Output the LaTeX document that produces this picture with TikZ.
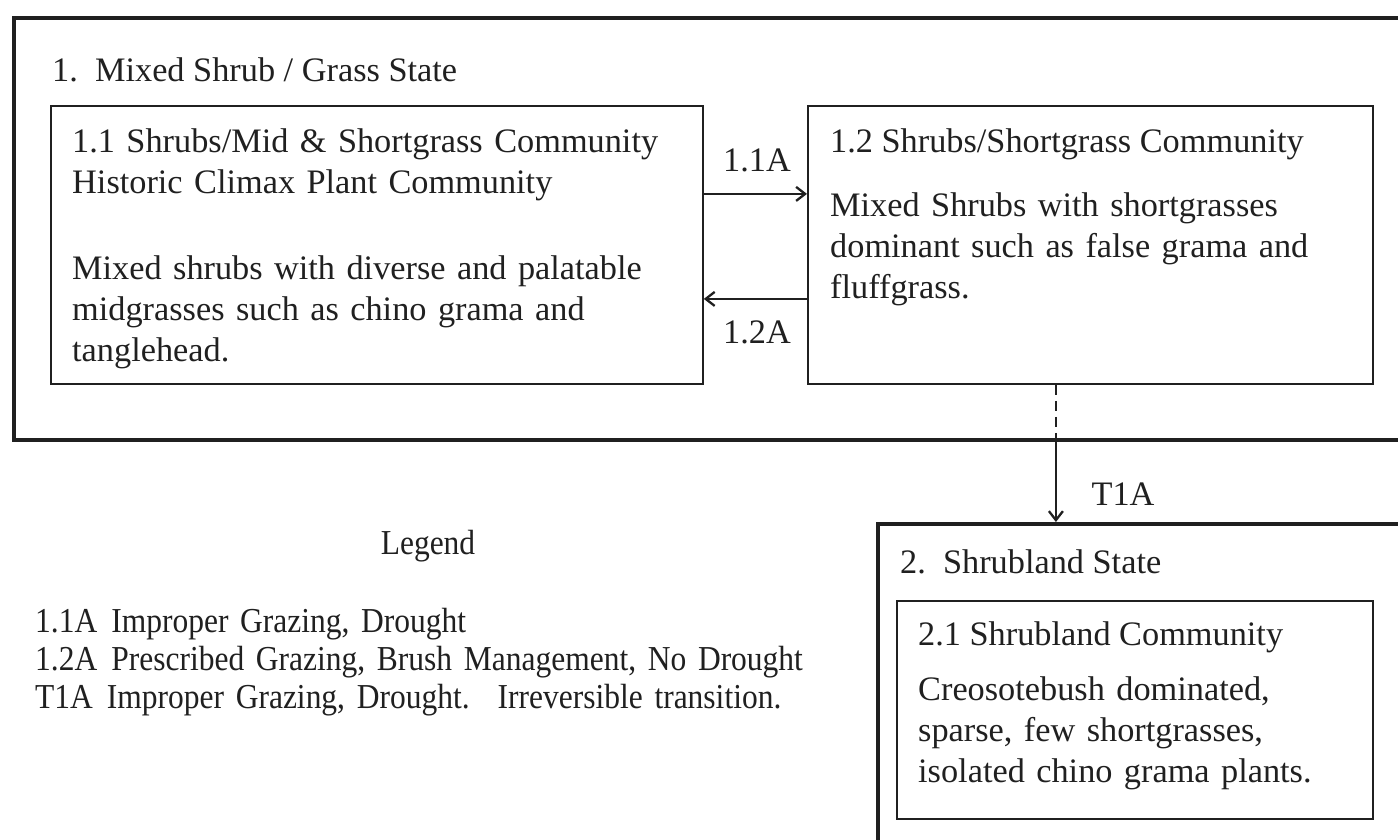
\documentclass[tikz,border=0pt]{standalone}
\usepackage{fontspec}
\setmainfont{Liberation Serif}
\newfontfamily\legendfont{Liberation Serif}[FakeStretch=0.9]
\usetikzlibrary{arrows.meta}
\definecolor{ink}{HTML}{202020}
\begin{document}
\begin{tikzpicture}[x=1pt,y=-1pt,
  txt/.style={anchor=base west, inner sep=0pt, text=ink, font=\fontsize{34.3}{41}\selectfont, align=left},
  legtxt/.style={anchor=base west, inner sep=0pt, text=ink, font=\legendfont\fontsize{35}{38}\selectfont, align=left},
  statebox/.style={draw=ink, line width=3.5pt, anchor=north west, inner sep=0pt},
  commbox/.style={draw=ink, line width=1.8pt, anchor=north west, inner sep=0pt},
  conn/.style={draw=ink, line width=2.3pt, -{Straight Barb[length=9pt,width=14pt]}},
  dashconn/.style={draw=ink, line width=2.3pt, dash pattern=on 10pt off 6pt},
  lbl/.style={anchor=base, inner sep=0pt, text=ink, font=\fontsize{34.3}{41}\selectfont},
]
\clip (0,0) rectangle (1398,839);
\fill[white] (0,0) rectangle (1398,839);

% State 1
\node[statebox, minimum width=1420pt, minimum height=422pt] (s1) at (12,16) {};
\node[txt] (t1) at (52,81) {1.\ \ Mixed Shrub / Grass State};

\node[commbox, minimum width=652pt, minimum height=278pt] (b11) at (50,105) {};
\node[txt, text width=620pt] (t11a) at (72,152) {1.1 Shrubs/Mid \& Shortgrass Community\\Historic Climax Plant Community};
\node[txt, text width=620pt] (t11b) at (72,279) {Mixed shrubs with diverse and palatable\\midgrasses such as chino grama and\\tanglehead.};

\node[commbox, minimum width=565pt, minimum height=278pt] (b12) at (807,105) {};
\node[txt] (t12a) at (830,152) {1.2 Shrubs/Shortgrass Community};
\node[txt, text width=530pt] (t12b) at (830,216) {Mixed Shrubs with shortgrasses\\dominant such as false grama and\\fluffgrass.};

% transitions within state 1
\draw[conn] ([yshift=51pt]b11.east) -- ([yshift=51pt]b12.west);
\draw[conn] ([yshift=-54pt]b12.west) -- ([yshift=-54pt]b11.east);
\node[lbl] (l11) at (757,171) {1.1A};
\node[lbl] (l12) at (757,343) {1.2A};

% State 2
\node[statebox, minimum width=600pt, minimum height=400pt] (s2) at (876,522) {};
\node[txt] (t2) at (900,573) {2.\ \ Shrubland State};
\node[commbox, minimum width=476pt, minimum height=218pt] (b21) at (896,600) {};
\node[txt] (t21a) at (918,645) {2.1 Shrubland Community};
\node[txt, text width=440pt] (t21b) at (918,700) {Creosotebush dominated,\\sparse, few shortgrasses,\\isolated chino grama plants.};

% transition T1A
\coordinate (d1) at ([xshift=-34.5pt]b12.south);
\coordinate (d2) at (d1 |- s1.south);
\coordinate (d3) at (d1 |- s2.north);
\draw[dashconn] (d1) -- (d2);
\draw[conn] (d2) -- (d3);
\node[lbl] (lt1) at (1123,505) {T1A};

% Legend
\node[anchor=base, inner sep=0pt, text=ink, font=\legendfont\fontsize{35}{38}\selectfont] (leg) at (428,554) {Legend};
\node[legtxt, text width=820pt] (legl) at (35,632) {1.1A\hspace{0.4em}Improper Grazing, Drought\\1.2A\hspace{0.4em}Prescribed Grazing, Brush Management, No Drought\\T1A\hspace{0.4em}Improper Grazing, Drought.\hspace{0.8em}Irreversible transition.};
\end{tikzpicture}
\end{document}
